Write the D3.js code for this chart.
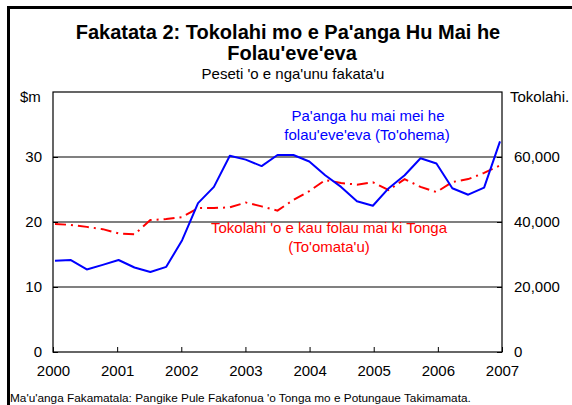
<!DOCTYPE html>
<html><head><meta charset="utf-8">
<script src="https://cdn.jsdelivr.net/npm/d3@7"></script>
<style>body{margin:0;background:#fff}svg{display:block;font-family:"Liberation Sans",Arial,sans-serif}</style>
</head><body><svg id="c" width="572" height="405"></svg>
<script>
const years = ["2000","2001","2002","2003","2004","2005","2006","2007"];
const quarters = d3.range(29);
const spending = [14.05,14.15,12.7,13.4,14.15,13.0,12.3,13.1,17.2,22.9,25.4,30.2,29.6,28.6,30.3,30.3,29.3,27.2,25.4,23.2,22.5,25.2,27.2,29.8,29.0,25.2,24.2,25.3,32.4];
const arrivals = [39400,39100,38500,37800,36500,36200,40600,40900,41500,44300,44300,44500,46000,44800,43500,46800,49500,52900,52000,51500,52200,49800,53200,50800,49200,52300,53200,55100,57400];
const leftTicks = [0,10,20,30];
const rightTicks = [0,20000,40000,60000];

const svg = d3.select("#c");
const L=53, R=502, T=92, B=352;
const x = d3.scaleLinear().domain([0,28]).range([55,500]);
const xYear = d3.scaleLinear().domain([0,7]).range([L,R]);
const yL = d3.scaleLinear().domain([0,40]).range([B,T]);
const yR = d3.scaleLinear().domain([0,80000]).range([B,T]);

// outer frame (top & left)
svg.append("path").attr("d","M8.5,405 V7.5 H572").attr("fill","none").attr("stroke","#000").attr("stroke-width",3);

// title
svg.append("text").attr("x",288).attr("y",39).attr("text-anchor","middle").attr("font-size",20).attr("font-weight","bold").text("Fakatata 2: Tokolahi mo e Pa'anga Hu Mai he");
svg.append("text").attr("x",292).attr("y",60).attr("text-anchor","middle").attr("font-size",20).attr("font-weight","bold").text("Folau'eve'eva");
svg.append("text").attr("x",293).attr("y",79).attr("text-anchor","middle").attr("font-size",15).text("Peseti 'o e nga'unu fakata'u");

// gridlines
[10,20,30].forEach(v=>{
  svg.append("line").attr("x1",L).attr("x2",R).attr("y1",yL(v)).attr("y2",yL(v))
    .attr("stroke", v===20?"#000":"#808080").attr("stroke-width", v===20?1.2:2);
});

// plot frame
svg.append("rect").attr("x",L).attr("y",T).attr("width",R-L).attr("height",B-T).attr("fill","none").attr("stroke","#000").attr("stroke-width",1.2);

// axes
const gL = svg.append("g").attr("transform",`translate(${L},0)`)
  .call(d3.axisLeft(yL).tickValues(leftTicks).tickSize(-5).tickPadding(11));
const gR = svg.append("g").attr("transform",`translate(${R},0)`)
  .call(d3.axisRight(yR).tickValues(rightTicks).tickSize(-5).tickPadding(12).tickFormat(d3.format(",")));
const gB = svg.append("g").attr("transform",`translate(0,${B})`)
  .call(d3.axisBottom(xYear).tickValues(d3.range(8)).tickSize(-5).tickPadding(13).tickFormat(i=>years[i]));
[gL,gR,gB].forEach(g=>{
  g.select(".domain").remove();
  g.selectAll("line").attr("stroke","#000");
  g.selectAll("text").attr("font-size",15).attr("fill","#000").attr("font-family","Liberation Sans, Arial, sans-serif");
});

svg.append("text").attr("x",20).attr("y",102).attr("font-size",15).text("$m");
svg.append("text").attr("x",510).attr("y",102).attr("font-size",15).text("Tokolahi.");

// lines
svg.append("path").datum(arrivals)
  .attr("d", d3.line().x((d,i)=>x(quarters[i])).y(d=>yR(d)))
  .attr("fill","none").attr("stroke","#ff0000").attr("stroke-width",2).attr("stroke-dasharray","11,5,2,5");
svg.append("path").datum(spending)
  .attr("d", d3.line().x((d,i)=>x(quarters[i])).y(d=>yL(d)))
  .attr("fill","none").attr("stroke","#0000ff").attr("stroke-width",2).attr("stroke-linejoin","round");

// annotations
const blue = svg.append("text").attr("fill","#0000ff").attr("font-size",15).attr("text-anchor","middle");
blue.append("tspan").attr("x",368).attr("y",121).text("Pa'anga hu mai mei he");
blue.append("tspan").attr("x",367).attr("y",140).text("folau'eve'eva (To'ohema)");
const red = svg.append("text").attr("fill","#ff0000").attr("font-size",15).attr("text-anchor","middle");
red.append("tspan").attr("x",329).attr("y",233).text("Tokolahi 'o e kau folau mai ki Tonga");
red.append("tspan").attr("x",329).attr("y",252).text("(To'omata'u)");

// source
svg.append("text").attr("x",10).attr("y",402).attr("font-size",11.8).text("Ma'u'anga Fakamatala: Pangike Pule Fakafonua 'o Tonga mo e Potungaue Takimamata.");
</script></body></html>
